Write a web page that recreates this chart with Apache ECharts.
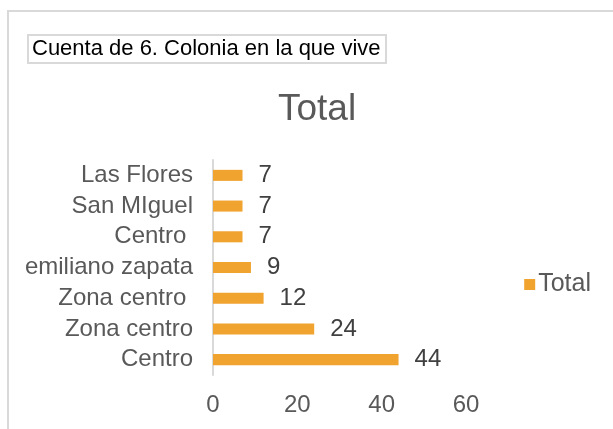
<!DOCTYPE html>
<html>
<head>
<meta charset="utf-8">
<script src="https://cdn.jsdelivr.net/npm/echarts@6/dist/echarts.min.js"></script>
<style>
  html, body { margin: 0; padding: 0; background: #fff; }
  #main { width: 613px; height: 429px; }
</style>
</head>
<body>
<div id="main"></div>
<script>
// categories from bottom to top (trailing spaces are in the source labels)
var categories = ["Centro", "Zona centro", "Zona centro ", "emiliano zapata", "Centro ", "San MIguel", "Las Flores"];
var values = [44, 24, 12, 9, 7, 7, 7];
var xTicks = [0, 20, 40, 60];
var seriesName = "Total";

var myChart = echarts.init(document.getElementById('main'));
var font = "'Liberation Sans', Arial, sans-serif";
var option = {
	animation : false,
	graphic : [ {
		type : 'rect',
		shape : { x : 8, y : 11, width : 700, height : 500 },
		style : { fill : 'none', stroke : '#d9d9d9', lineWidth : 2 },
		silent : true
	} ],
	title : [ {
		text : 'Total',
		left : 273,
		top : 86,
		textStyle : { fontFamily : font, fontSize : 37, fontWeight : 'normal', color : '#595959' }
	}, {
		text : 'Cuenta de 6. Colonia en la que vive',
		left : 28,
		top : 35,
		padding : [ 3, 6, 3, 4 ],
		borderColor : '#d9d9d9',
		borderWidth : 2,
		textStyle : { fontFamily : font, fontSize : 22, fontWeight : 'normal', color : '#000' }
	} ],
	legend : {
		data : [ seriesName ],
		right : 17,
		top : 267,
		icon : 'rect',
		itemWidth : 11,
		itemHeight : 11,
		itemGap : 6,
		textStyle : { fontFamily : font, fontSize : 25, color : '#595959', padding : [ 0, 0, 0, -2 ] }
	},
	grid : { left : 213, right : 147, top : 160, bottom : 54, containLabel : false },
	xAxis : {
		type : 'value',
		min : xTicks[0],
		max : xTicks[xTicks.length - 1],
		interval : 20,
		axisLine : { show : false },
		axisTick : { show : false },
		splitLine : { show : false },
		axisLabel : { margin : 18, fontFamily : font, fontSize : 24, color : '#595959' }
	},
	yAxis : {
		type : 'category',
		data : categories,
		axisLine : { show : true, lineStyle : { color : '#d9d9d9', width : 2 } },
		axisTick : { show : false },
		axisLabel : { interval : 0, margin : 20, fontFamily : font, fontSize : 24, color : '#595959' }
	},
	series : [ {
		name : seriesName,
		type : 'bar',
		data : values,
		barCategoryGap : '64%',
		itemStyle : { color : '#f0a32f' },
		label : {
			show : true,
			position : 'right',
			distance : 16,
			fontFamily : font,
			fontSize : 24,
			color : '#404040'
		}
	} ]
};
myChart.setOption(option);
</script>
</body>
</html>
